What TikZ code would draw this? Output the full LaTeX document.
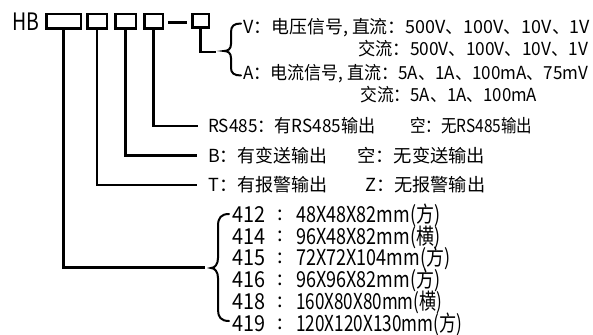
\documentclass[tikz,border=0pt]{standalone}
\usepackage{fontspec}
\usepackage{graphicx}
\setmainfont{Noto Sans CJK SC}
\newcommand\fitw[2]{\resizebox{#1pt}{\height}{#2}}
\tikzset{
  ln/.style={line width=2.5pt},
  bx/.style={draw, line width=2.5pt, inner sep=0pt, minimum height=14.5pt},
  brc/.style={line width=2pt, line cap=round},
  up/.style={anchor=west, inner sep=0pt, font=\fontsize{18}{21}\selectfont, text height=13.7pt, text depth=0pt},
  lo/.style={anchor=west, inner sep=0pt, font=\fontsize{22}{26}\selectfont, text height=16.5pt, text depth=0pt},
}
\begin{document}
\begin{tikzpicture}[x=1pt,y=-1pt]
\useasboundingbox (0,0) rectangle (593,334);
% title and boxes
\node[anchor=west, inner sep=0pt, font=\fontsize{24}{28}\selectfont, text height=17.6pt, text depth=0pt] (hb) at (12,21.5) {\fitw{27}{HB}};
\node[bx, minimum width=34.5pt] (b1) at (63.5,21.5) {};
\node[bx, minimum width=19.5pt] (b2) at (97,21.5) {};
\node[bx, minimum width=20.5pt] (b3) at (125.5,21.5) {};
\node[bx, minimum width=18.5pt] (b4) at (153.5,21.5) {};
\node[bx, minimum width=16.5pt, minimum height=13.5pt] (b5) at (200.5,21) {};
\coordinate (d1) at (168,22.5);
\coordinate (d2) at (187,22.5);
\draw[ln] (d1) -- (d2);
% upper texts
\node[up] (vrow) at (243,27) {\fitw{347}{V：电压信号, 直流：500V、100V、10V、1V}};
\node[up] (vac) at (358,49) {\fitw{230}{交流：500V、100V、10V、1V}};
\node[up] (arow) at (243,73) {\fitw{345}{A：电流信号, 直流：5A、1A、100mA、75mV}};
\node[up] (aac) at (360,95) {\fitw{177}{交流：5A、1A、100mA}};
\node[up] (rsa) at (208,126) {\fitw{167}{RS485：有RS485输出}};
\node[up] (rsb) at (410,126) {\fitw{122}{空：无RS485输出}};
\node[up] (ba) at (208,155.5) {\fitw{119}{B：有变送输出}};
\node[up] (bb) at (357,155.5) {\fitw{128}{空：无变送输出}};
\node[up] (ta) at (208,185) {\fitw{119}{T：有报警输出}};
\node[up] (tb) at (365,185) {\fitw{120}{Z：无报警输出}};
% upper brace
\coordinate (tip5) at (224,51);
\draw[brc] (241,23.5) .. controls (234,23.5) and (231,26) .. (231,32) -- (231,44)
  .. controls (231,49) and (228,51) .. (tip5)
  .. controls (228,51) and (231,53) .. (231,58) -- (231,68)
  .. controls (231,73) and (234,75.5) .. (241,75.5);
% connectors
\coordinate (e5) at (216,52);
\coordinate (e4) at (198,126);
\coordinate (e3) at (197,155.5);
\coordinate (e2) at (197,185);
\coordinate (e1) at (205,267.5);
\draw[ln] (b5.south) |- (e5);
\draw[ln] (b4.south) |- (e4);
\draw[ln] (b3.south) |- (e3);
\draw[ln] (b2.south) |- (e2);
\draw[ln] (b1.south) |- (e1);
% lower brace
\coordinate (tip1) at (211,268);
\draw[brc] (229,214) .. controls (221,214) and (218,218) .. (218,226) -- (218,258)
  .. controls (218,264) and (215,268) .. (tip1)
  .. controls (215,268) and (218,272) .. (218,278) -- (218,310)
  .. controls (218,317) and (221,321) .. (229,321);
% lower texts
\node[lo] (n1) at (232,214) {\fitw{33}{412}};
\node[lo] (n2) at (232,235.8) {\fitw{33}{414}};
\node[lo] (n3) at (232,257.6) {\fitw{33}{415}};
\node[lo] (n4) at (232,279.4) {\fitw{33}{416}};
\node[lo] (n5) at (232,301.2) {\fitw{33}{418}};
\node[lo] (n6) at (232,323) {\fitw{33}{419}};
\foreach \i/\y in {1/214,2/235.8,3/257.6,4/279.4,5/301.2,6/323}{
  \node[inner sep=0pt, font=\fontsize{20}{22}\selectfont] (c\i) at (280,\y+1) {:};
}
\node[lo] (s1) at (296,214) {\fitw{144}{48X48X82mm(方)}};
\node[lo] (s2) at (296,235.8) {\fitw{144}{96X48X82mm(横)}};
\node[lo] (s3) at (296,257.6) {\fitw{154}{72X72X104mm(方)}};
\node[lo] (s4) at (296,279.4) {\fitw{144}{96X96X82mm(方)}};
\node[lo] (s5) at (296,301.2) {\fitw{146}{160X80X80mm(横)}};
\node[lo] (s6) at (296,323) {\fitw{166}{120X120X130mm(方)}};
\end{tikzpicture}
\end{document}
